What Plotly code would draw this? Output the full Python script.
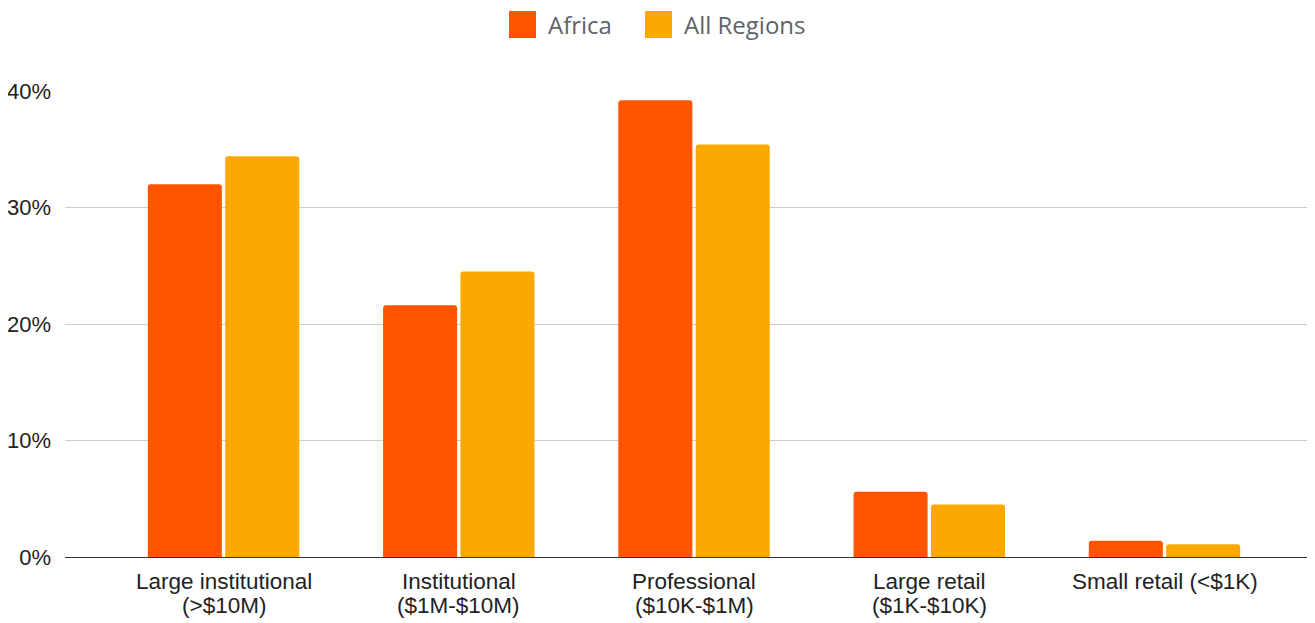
import plotly.graph_objects as go

categories = ["Large institutional<br>(>$10M)", "Institutional<br>($1M-$10M)",
              "Professional<br>($10K-$1M)", "Large retail<br>($1K-$10K)", "Small retail (<$1K)"]
africa = [32.0, 21.6, 39.2, 5.6, 1.4]
all_regions = [34.4, 24.5, 35.4, 4.5, 1.1]
series_names = ["Africa", "All Regions"]
colors = ["#FF5500", "#FBA900"]

# page body has an 8px margin; size the figure so the visible picture lines up
W, H = 1307, 615
ML, MR, MT, MB = 57, 3, 83, 66
PW, PH = W - ML - MR, H - MT - MB

fig = go.Figure()
for name, vals, c in zip(series_names, [africa, all_regions], colors):
    fig.add_trace(go.Bar(x=list(range(len(categories))), y=vals, name=name,
                         marker=dict(color=c, line=dict(width=0), cornerradius=3),
                         showlegend=False, hoverinfo="y"))

fig.update_layout(
    width=W, height=H, barmode="group", bargap=0.342, bargroupgap=0.043,
    margin=dict(l=ML, r=MR, t=MT, b=MB, autoexpand=False),
    plot_bgcolor="white", paper_bgcolor="white",
    font=dict(family="Liberation Sans, Arial", size=22, color="#222222"),
)
fig.update_xaxes(range=[-0.674, 4.627], showgrid=False, ticks="", showline=False, zeroline=False,
                 showticklabels=False, automargin=False)
fig.update_yaxes(range=[0, 40], tickvals=[0, 10, 20, 30, 40], ticktext=["0%", "10%", "20%", "30%", "40%"],
                 showgrid=True, gridcolor="#cccccc", gridwidth=1, zeroline=True, zerolinecolor="#333333",
                 zerolinewidth=1, ticks="", ticklabelstandoff=13, showline=False, automargin=False)

# category labels, one annotation per line for tighter line spacing
for i, cat in enumerate(categories):
    for j, line in enumerate(cat.split("<br>")):
        fig.add_annotation(text=line, x=i, y=0, xref="x", yref="y", showarrow=False,
                           xanchor="center", yanchor="middle", yshift=-24 - 24.5 * j,
                           font=dict(family="Liberation Sans, Arial", size=22.5, color="#222222"))

# manual legend (figure pixel coords converted to paper coords)
def px(x):
    return (x - ML) / PW

def py(y):
    return (H - MB - y) / PH

leg_x = [501, 637]
for i, (name, c) in enumerate(zip(series_names, colors)):
    x0 = leg_x[i]
    fig.add_shape(type="rect", xref="paper", yref="paper",
                  x0=px(x0), x1=px(x0 + 27), y0=py(30), y1=py(3),
                  fillcolor=c, line=dict(width=0))
    fig.add_annotation(text=name, xref="paper", yref="paper",
                       x=px(x0 + 37), y=py(16.5),
                       xanchor="left", yanchor="middle", showarrow=False,
                       font=dict(family="Open Sans", size=24, color="#5f6368"))

fig.write_html("out.html")
